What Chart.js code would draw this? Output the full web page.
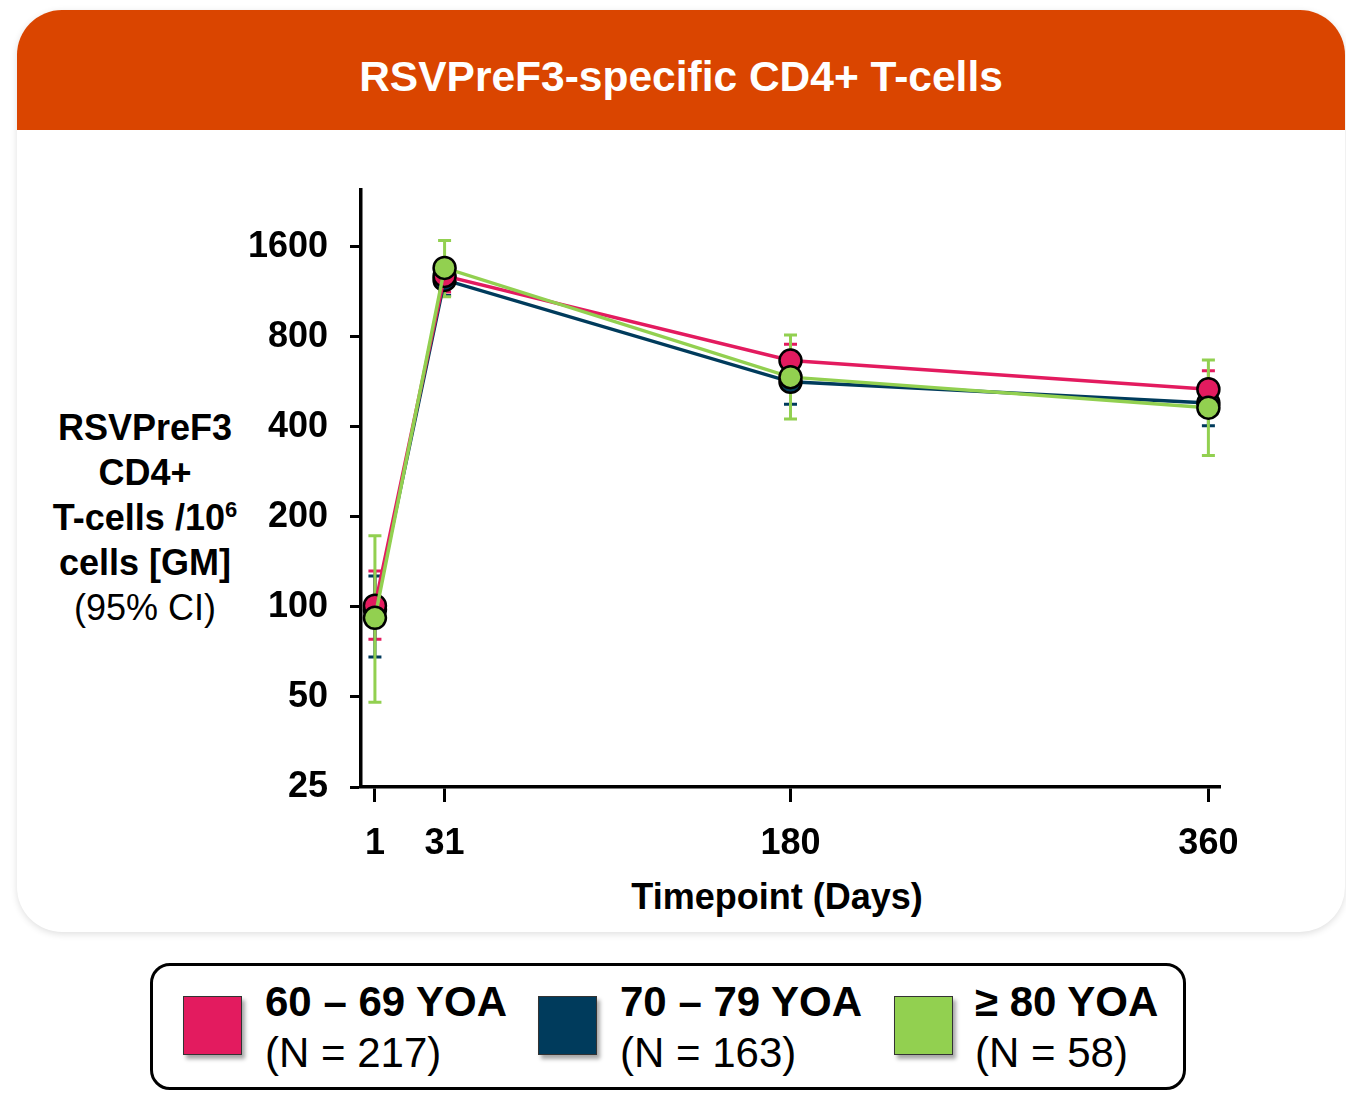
<!DOCTYPE html>
<html>
<head>
<meta charset="utf-8">
<script src="https://cdn.jsdelivr.net/npm/chart.js@4.4.1/dist/chart.umd.min.js"></script>
<style>
  html, body { margin: 0; padding: 0; background: #ffffff; }
  body { width: 1346px; height: 1096px; position: relative; overflow: hidden;
         font-family: "Liberation Sans", Arial, Helvetica, sans-serif; color: #000; }
  .card { position: absolute; left: 17px; top: 10px; width: 1328px; height: 922px;
          background: #fff; border-radius: 45px; overflow: hidden;
          box-shadow: 0 2px 7px rgba(0,0,0,0.13); }
  .header { position: absolute; left: 0; top: 0; width: 100%; height: 120px;
            background: #DA4500; color: #fff; font-weight: bold; font-size: 42.5px;
            text-align: center; }
  .header span { position: absolute; left: 0; right: 0; top: 46px; line-height: 42px; }
  #chartWrap { position: absolute; left: 0; top: 0; width: 1346px; height: 940px; }
  .ytitle { position: absolute; left: 0; top: 405px; width: 290px; text-align: center;
            font-size: 36px; line-height: 45px; font-weight: bold; }
  .ytitle sup { font-size: 22px; line-height: 0; vertical-align: 0; position: relative; top: -13px; }
  .ytitle .ci { font-weight: normal; }
  .xtitle { position: absolute; left: 577px; width: 400px; top: 875px; text-align: center;
            font-size: 36px; line-height: 44px; font-weight: bold; }
  .legend { position: absolute; left: 150px; top: 963px; width: 1036px; height: 127px;
            box-sizing: border-box; border: 3px solid #000; border-radius: 20px; background: #fff; }
  .sw { position: absolute; top: 30px; width: 59px; height: 59px; box-sizing: border-box;
        border: 1.5px solid #333; box-shadow: 3px 4px 4px rgba(0,0,0,0.35); }
  .lt { position: absolute; font-size: 42px; line-height: 48px; white-space: nowrap; }
  .lt b { display: block; }
  .lt span { display: block; margin-top: 3px; }
</style>
</head>
<body>
<div class="card">
  <div class="header"><span>RSVPreF3-specific CD4+ T-cells</span></div>
</div>
<div class="ytitle">RSVPreF3<br>CD4+<br>T-cells /10<sup>6</sup><br>cells [GM]<br><span class="ci">(95% CI)</span></div>
<div class="xtitle">Timepoint (Days)</div>
<div id="chartWrap"><canvas id="chart" width="1346" height="940"></canvas></div>

<div class="legend" id="legend"></div>

<script>
// Timepoints (days after vaccination) and tick labels
const days = [1, 31, 180, 360];
const yTickValues = [25, 50, 100, 200, 400, 800, 1600];

// Series: geometric mean frequency with lower / upper 95% CI
const groupNames = ['60 – 69 YOA', '70 – 79 YOA', '≥ 80 YOA'];
const groupN = ['(N = 217)', '(N = 163)', '(N = 58)'];

const gm60 = [101, 1280, 667, 535];
const lo60 = [78, 1130, 589, 463];
const hi60 = [132, 1420, 756, 616];

const gm70 = [98, 1241, 566, 481];
const lo70 = [68, 1100, 476, 404];
const hi70 = [127, 1390, 670, 573];

const gm80 = [92, 1361, 587, 464];
const lo80 = [48, 1090, 425, 321];
const hi80 = [173, 1680, 812, 670];

const colors = ['#E31B5F', '#003B5C', '#92D050'];

// HTML legend
(function buildLegend() {
  const lg = document.getElementById('legend');
  const swLeft = [30, 385, 741];
  const txLeft = [112, 467, 822];
  for (let i = 0; i < groupNames.length; i++) {
    const sw = document.createElement('div');
    sw.className = 'sw';
    sw.style.left = swLeft[i] + 'px';
    sw.style.background = colors[i];
    lg.appendChild(sw);
    const t = document.createElement('div');
    t.className = 'lt';
    t.style.left = txLeft[i] + 'px';
    t.style.top = '12px';
    t.innerHTML = '<b>' + groupNames[i] + '</b><span>' + groupN[i] + '</span>';
    lg.appendChild(t);
  }
})();

function pts(values) {
  return days.map((d, i) => ({ x: d, y: values[i] }));
}

// draw order: lower "order" ends up on top (green over pink over navy)
const series = [
  { gm: gm60, lo: lo60, hi: hi60, color: colors[0], order: 1 },
  { gm: gm70, lo: lo70, hi: hi70, color: colors[1], order: 2 },
  { gm: gm80, lo: lo80, hi: hi80, color: colors[2], order: 0 }
];

// Error bars drawn beneath lines and markers
const errorBars = {
  id: 'errorBars',
  beforeDatasetsDraw(chart) {
    const { ctx, scales: { x, y } } = chart;
    ctx.save();
    ctx.lineWidth = 3;
    ctx.lineCap = 'butt';
    series.forEach(s => {
      ctx.strokeStyle = s.color;
      days.forEach((d, i) => {
        const px = x.getPixelForValue(d);
        const pLo = y.getPixelForValue(s.lo[i]);
        const pHi = y.getPixelForValue(s.hi[i]);
        const cap = 6.5;
        ctx.beginPath();
        ctx.moveTo(px, pLo); ctx.lineTo(px, pHi);
        ctx.moveTo(px - cap, pLo); ctx.lineTo(px + cap, pLo);
        ctx.moveTo(px - cap, pHi); ctx.lineTo(px + cap, pHi);
        ctx.stroke();
      });
    });
    ctx.restore();
  }
};

const tickFont = { family: '"Liberation Sans", Arial, sans-serif', size: 36, weight: 'bold' };

new Chart(document.getElementById('chart'), {
  type: 'line',
  data: {
    datasets: series.map((s, i) => ({
      label: groupNames[i],
      data: pts(s.gm),
      borderColor: s.color,
      backgroundColor: s.color,
      borderWidth: 3.5,
      pointRadius: 11,
      pointHoverRadius: 11,
      pointBorderWidth: 2.5,
      pointBorderColor: '#000',
      pointBackgroundColor: s.color,
      tension: 0,
      order: s.order,
      clip: false
    }))
  },
  options: {
    responsive: false,
    devicePixelRatio: 1,
    animation: false,
    events: [],
    layout: { padding: { left: 0, top: 190, right: 126, bottom: 0 } },
    plugins: { legend: { display: false }, tooltip: { enabled: false }, title: { display: false } },
    scales: {
      x: {
        type: 'linear',
        min: -5,
        max: 365,
        afterFit(scale) { scale.height = 153; },
        afterBuildTicks(scale) { scale.ticks = days.map(v => ({ value: v })); },
        ticks: { color: '#000', font: tickFont, padding: 20, maxRotation: 0, autoSkip: false,
                 callback: v => String(v) },
        grid: { drawOnChartArea: false, drawTicks: true, tickLength: 15, tickWidth: 3, tickColor: '#000' },
        border: { display: true, color: '#000', width: 3.5 }
      },
      y: {
        type: 'logarithmic',
        min: 25,
        max: 2480,
        afterFit(scale) { scale.width = 361; },
        afterBuildTicks(scale) { scale.ticks = yTickValues.map(v => ({ value: v })); },
        ticks: { color: '#000', font: tickFont, padding: 22, autoSkip: false,
                 callback: v => String(v) },
        grid: { drawOnChartArea: false, drawTicks: true, tickLength: 11, tickWidth: 3, tickColor: '#000' },
        border: { display: true, color: '#000', width: 3.5 }
      }
    }
  },
  plugins: [errorBars]
});
</script>
</body>
</html>
